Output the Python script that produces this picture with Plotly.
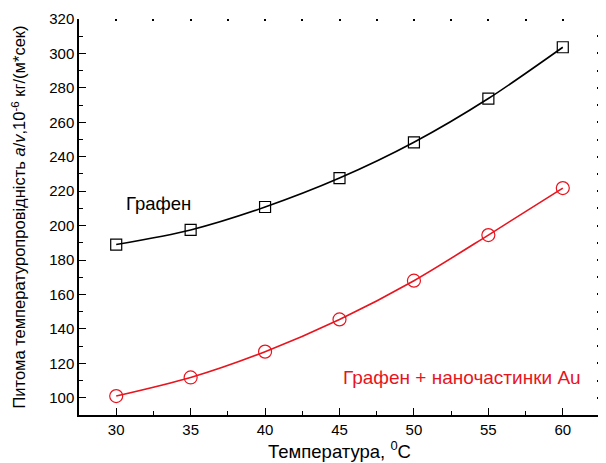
"""
Thermal diffusivity of graphene vs graphene + Au nanoparticles.
"""

import plotly.graph_objects as go

temperature = [30, 35, 40, 45, 50, 55, 60]
graphene = [189, 197.5, 210.8, 227.6, 248.4, 273.8, 303.6]
graphene_au = [101, 111.8, 126.8, 145.5, 168, 194.5, 221.8]

font_family = 'Arial, "Liberation Sans", sans-serif'

# short tick dots along the top edge, every half step
top_ticks = [27.5 + 2.5 * i for i in range(15)]

fig = go.Figure()
fig.add_trace(go.Scatter(
    x=temperature, y=graphene,
    mode='lines+markers',
    line={'color': '#000000', 'width': 1.6, 'shape': 'spline',
          'smoothing': 0.8},
    marker={'symbol': 'square-open', 'size': 11, 'color': '#000000',
            'line': {'width': 1.2}},
    name='Графен', showlegend=False
))
fig.add_trace(go.Scatter(
    x=temperature, y=graphene_au,
    mode='lines+markers',
    line={'color': '#E8141E', 'width': 1.6, 'shape': 'spline',
          'smoothing': 0.8},
    marker={'symbol': 'circle-open', 'size': 13, 'color': '#E8141E',
            'line': {'width': 1.2}},
    name='Графен + наночастинки Au', showlegend=False
))
# invisible trace so the top / right tick axes get drawn
fig.add_trace(go.Scatter(
    x=[temperature[0]], y=[graphene[0]], xaxis='x2', yaxis='y2',
    mode='markers', marker={'opacity': 0}, showlegend=False,
    hoverinfo='skip'
))

fig.add_annotation(x=30.5, y=213, text='Графен', showarrow=False,
                   xanchor='left', font={'size': 18.5, 'color': '#000000'})
fig.add_annotation(x=61.35, y=112, text='Графен + наночастинки Au',
                   showarrow=False, xanchor='right',
                   font={'size': 19, 'color': '#E8141E'})

# the page body keeps an 8px margin, so the figure is 8px smaller
fig.update_layout(
    width=598, height=455,
    margin={'l': 71, 'r': 6, 't': 11, 'b': 48},
    plot_bgcolor='#FFFFFF', paper_bgcolor='#FFFFFF',
    font={'family': font_family, 'color': '#000000', 'size': 15},
    xaxis=dict(
        range=[27.5, 62.5], dtick=5, tick0=30, automargin=False,
        showgrid=False, zeroline=False,
        ticks='inside', ticklen=7, tickwidth=1.2, tickcolor='#000000',
        minor={'ticks': 'inside', 'ticklen': 4, 'dtick': 2.5,
               'tickcolor': '#000000', 'tickwidth': 1.2},
        showline=True, linecolor='#000000', linewidth=1.5,
        title={'text': 'Температура, <sup>0</sup>C',
               'font': {'size': 18.5}, 'standoff': 0},
        tickfont={'size': 15},
    ),
    yaxis=dict(
        range=[90, 320], dtick=20, tick0=100, automargin=False,
        showgrid=False, zeroline=False,
        ticks='inside', ticklen=7, tickwidth=1.2, tickcolor='#000000',
        minor={'ticks': 'inside', 'ticklen': 4, 'dtick': 10,
               'tickcolor': '#000000', 'tickwidth': 1.2},
        showline=True, linecolor='#000000', linewidth=1.5,
        title={'text': 'Питома температуропровідність <i>a</i>/<i>v</i>,'
                       '10<sup>-6</sup> кг/(м*сек)',
               'font': {'size': 16.5}, 'standoff': 19},
        tickfont={'size': 15},
    ),
    xaxis2=dict(
        overlaying='x', side='top', anchor='y', range=[27.5, 62.5],
        automargin=False, showgrid=False, zeroline=False, showline=False,
        ticks='inside', ticklen=2, tickwidth=2, tickcolor='#000000',
        tickmode='array', tickvals=top_ticks, showticklabels=False,
    ),
    yaxis2=dict(
        overlaying='y', side='right', anchor='x', range=[90, 320],
        automargin=False, showgrid=False, zeroline=False, showline=False,
        ticks='inside', ticklen=3, tickwidth=2, tickcolor='#000000',
        tickmode='linear', dtick=10, tick0=100, showticklabels=False,
    ),
)

fig.write_html("out.html")
